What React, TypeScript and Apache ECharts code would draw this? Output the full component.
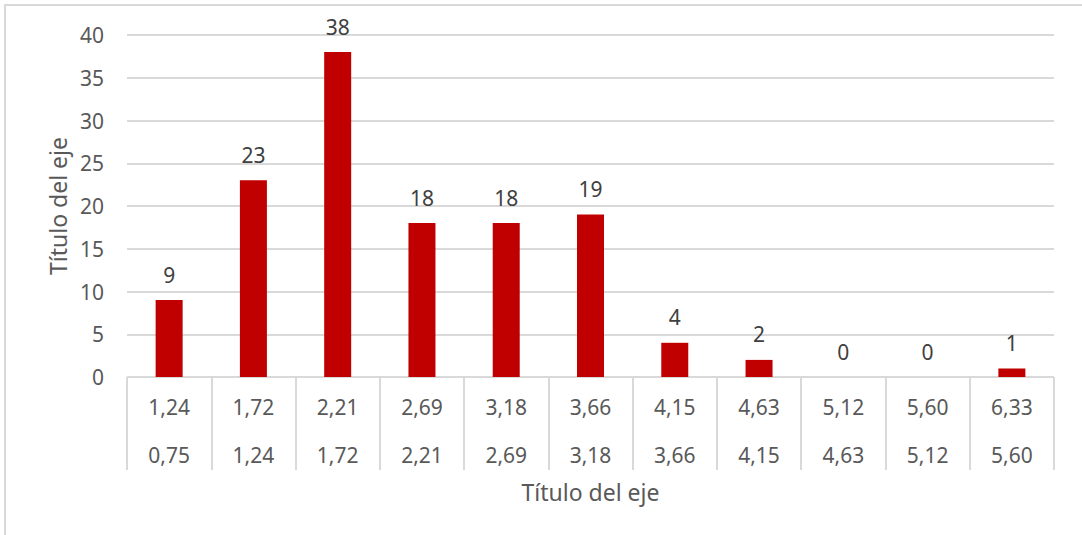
import React, { useEffect, useRef } from "react";
import * as echarts from "echarts";

const upperLabels = ["1,24", "1,72", "2,21", "2,69", "3,18", "3,66", "4,15", "4,63", "5,12", "5,60", "6,33"];
const lowerLabels = ["0,75", "1,24", "1,72", "2,21", "2,69", "3,18", "3,66", "4,15", "4,63", "5,12", "5,60"];
const counts = [9, 23, 38, 18, 18, 19, 4, 2, 0, 0, 1];
const yTicks = { min: 0, max: 40, interval: 5 };

const FONT = "Noto Sans";
const TEXT = "#595959";
const LINE = "#d9d9d9";

export default function App() {
  const ref = useRef<HTMLDivElement>(null);
  useEffect(() => {
    const chart = echarts.init(ref.current!, undefined, { renderer: "svg" });
    chart.setOption({
      animation: false,
      textStyle: { fontFamily: FONT },
      graphic: [
        {
          type: "rect",
          shape: { x: 5, y: 5, width: 1200, height: 700 },
          style: { fill: "none", stroke: LINE, lineWidth: 2 },
          silent: true,
        },
      ],
      grid: { left: 127, right: 28, top: 35, bottom: 158 },
      xAxis: [
        {
          type: "category",
          data: upperLabels,
          position: "bottom",
          axisLine: { show: true, lineStyle: { color: LINE, width: 1 } },
          axisTick: { show: true, interval: 0, length: 93, lineStyle: { color: LINE, width: 2 } },
          axisLabel: { interval: 0, margin: 19, fontSize: 21, color: TEXT, fontFamily: FONT },
          name: "Título del eje",
          nameLocation: "middle",
          nameGap: 103,
          nameTextStyle: { fontSize: 23, color: TEXT, fontFamily: FONT },
        },
        {
          type: "category",
          data: lowerLabels,
          position: "bottom",
          axisLine: { show: false },
          axisTick: { show: false },
          axisLabel: { interval: 0, margin: 67, fontSize: 21, color: TEXT, fontFamily: FONT },
        },
      ],
      yAxis: {
        type: "value",
        min: yTicks.min,
        max: yTicks.max,
        interval: yTicks.interval,
        axisLine: { show: false },
        axisTick: { show: false },
        splitLine: { lineStyle: { color: LINE, width: 2 } },
        axisLabel: { margin: 23, fontSize: 21, color: TEXT, fontFamily: FONT },
        name: "Título del eje",
        nameLocation: "middle",
        nameGap: 58,
        nameTextStyle: { fontSize: 23, color: TEXT, fontFamily: FONT },
      },
      series: [
        {
          type: "bar",
          data: counts,
          xAxisIndex: 0,
          barWidth: 27,
          itemStyle: { color: "#C00000" },
          label: {
            show: true,
            position: "top",
            distance: 15,
            fontSize: 21,
            color: "#404040",
            fontFamily: FONT,
          },
        },
      ],
    });
    return () => chart.dispose();
  }, []);
  return (
    <div
      ref={ref}
      style={{ position: "absolute", left: 0, top: 0, width: 1082, height: 535, background: "#fff" }}
    />
  );
}
